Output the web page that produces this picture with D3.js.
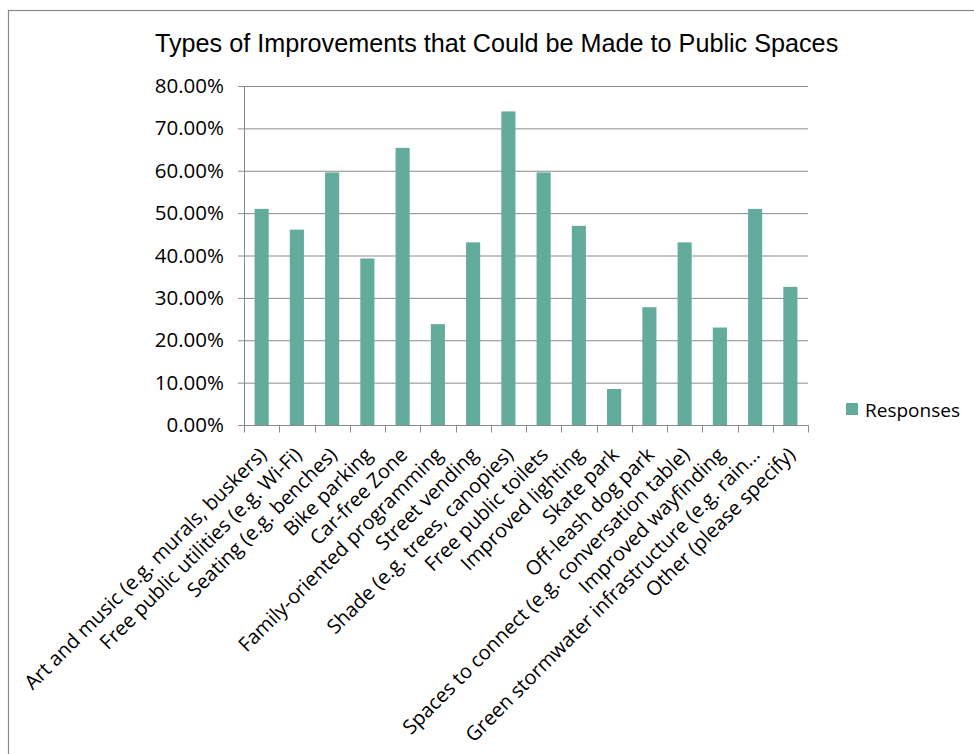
<!DOCTYPE html>
<html>
<head>
<meta charset="utf-8">
<script src="https://cdn.jsdelivr.net/npm/d3@7"></script>
<style>
  html, body { margin: 0; padding: 0; background: #fff; }
  svg { display: block; }
</style>
</head>
<body>
<svg id="chart" width="974" height="754"></svg>
<script>
const title = "Types of Improvements that Could be Made to Public Spaces";
const categories = [
  "Art and music (e.g. murals, buskers)",
  "Free public utilities (e.g. Wi-Fi)",
  "Seating (e.g. benches)",
  "Bike parking",
  "Car-free Zone",
  "Family-oriented programming",
  "Street vending",
  "Shade (e.g. trees, canopies)",
  "Free public toilets",
  "Improved lighting",
  "Skate park",
  "Off-leash dog park",
  "Spaces to connect (e.g. conversation table)",
  "Improved wayfinding",
  "Green stormwater infrastructure (e.g. rain…",
  "Other (please specify)"
];
const responses = [0.510, 0.461, 0.596, 0.393, 0.654, 0.238, 0.431, 0.740, 0.596, 0.470, 0.085, 0.278, 0.431, 0.230, 0.510, 0.326];
const seriesName = "Responses";
const yTicks = [0, 0.1, 0.2, 0.3, 0.4, 0.5, 0.6, 0.7, 0.8];

const svg = d3.select("#chart");
const plotLeft = 244, plotRight = 808, plotTop = 86, plotBottom = 425;
const barColor = "#62ab9d";
const lineColor = "#8a8a8a";
const labelFont = "'Open Sans', 'Noto Sans', sans-serif";

// frame
svg.append("rect")
  .attr("x", 8.5).attr("y", 10.5)
  .attr("width", 1000).attr("height", 1000)
  .attr("fill", "none").attr("stroke", "#888").attr("stroke-width", 1.2);

// title
svg.append("text")
  .attr("x", 155).attr("y", 52)
  .attr("font-family", "'Liberation Sans', Arial, sans-serif")
  .attr("font-size", 25.2)
  .attr("fill", "#000")
  .text(title);

const y = d3.scaleLinear().domain([0, 0.8]).range([plotBottom, plotTop]);
const x = d3.scaleBand().domain(categories).range([plotLeft, plotRight]).paddingInner(0.6).paddingOuter(0.3);
const xCell = d3.scaleBand().domain(categories).range([plotLeft, plotRight]).padding(0);

// gridlines
const grid = svg.append("g").attr("transform", `translate(${plotLeft},0)`)
  .call(d3.axisLeft(y).tickValues(yTicks).tickSize(-(plotRight - plotLeft)).tickFormat(""));
grid.select(".domain").remove();
grid.selectAll("line").attr("stroke", lineColor);

// y axis
const yAxis = svg.append("g").attr("transform", `translate(${plotLeft},0)`)
  .call(d3.axisLeft(y).tickValues(yTicks).tickSize(6).tickSizeOuter(0).tickPadding(14)
    .tickFormat(d3.format(".2%")));
yAxis.select(".domain").attr("stroke", lineColor);
yAxis.selectAll("line").attr("stroke", lineColor);
yAxis.selectAll("text")
  .attr("font-family", labelFont).attr("font-size", 20.5).attr("fill", "#000");

// bars
svg.append("g").selectAll("rect").data(categories).join("rect")
  .attr("x", d => x(d))
  .attr("width", x.bandwidth())
  .attr("y", (d, i) => y(responses[i]))
  .attr("height", (d, i) => y(0) - y(responses[i]))
  .attr("fill", barColor);

// x axis line + boundary ticks
const xg = svg.append("g").attr("transform", `translate(0,${plotBottom + 0.5})`);
xg.append("line").attr("x1", plotLeft).attr("x2", plotRight + 0.5).attr("stroke", lineColor);
const bounds = categories.map(d => xCell(d)).concat([xCell.range()[1]]);
xg.selectAll("line.tick").data(bounds).join("line").attr("class", "tick")
  .attr("x1", d => Math.round(d) + 0.5).attr("x2", d => Math.round(d) + 0.5)
  .attr("y1", 0).attr("y2", 7).attr("stroke", lineColor);

// x labels
svg.append("g").selectAll("text").data(categories).join("text")
  .attr("transform", d => `translate(${x(d) + x.bandwidth() / 2 + 1},${plotBottom + 26}) rotate(-45)`)
  .attr("text-anchor", "end")
  .attr("dy", "0.35em")
  .attr("font-family", labelFont).attr("font-size", 20).attr("fill", "#000")
  .text(d => d);

// legend
const lg = svg.append("g");
lg.append("rect").attr("x", 846).attr("y", 403).attr("width", 12).attr("height", 12).attr("fill", barColor);
lg.append("text").attr("x", 865).attr("y", 416.5)
  .attr("font-family", labelFont).attr("font-size", 19).attr("fill", "#000")
  .text(seriesName);
</script>
</body>
</html>
